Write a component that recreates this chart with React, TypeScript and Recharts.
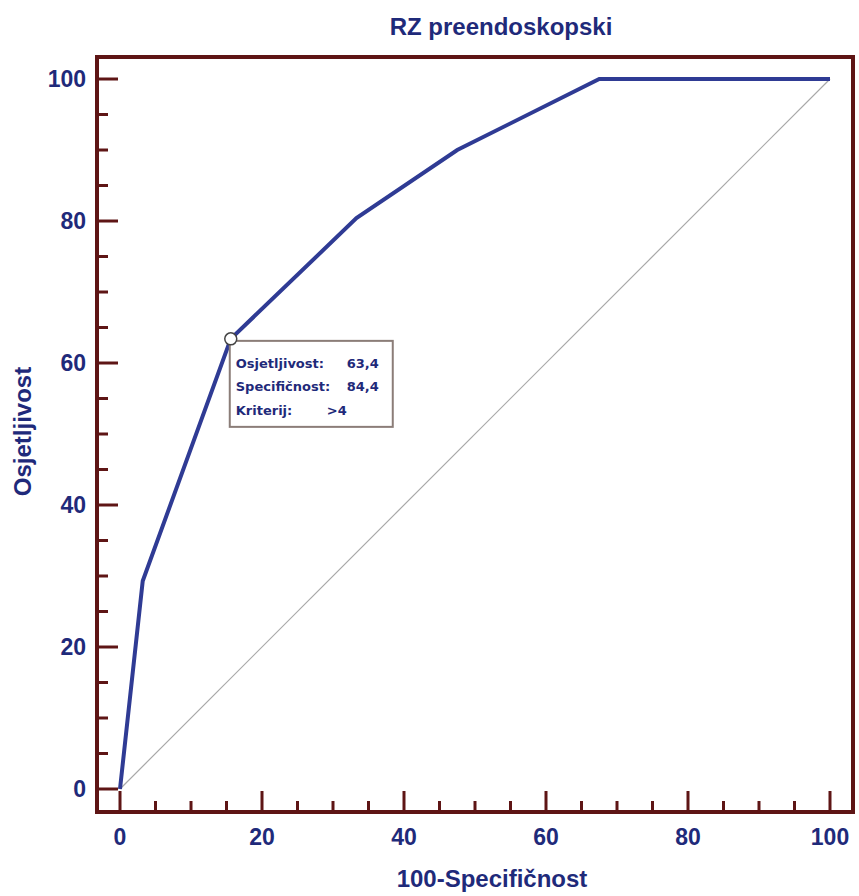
import { ComposedChart, Line, XAxis, YAxis, ReferenceArea, ReferenceDot } from 'recharts';

// ROC curve points (100-Specificity vs Sensitivity)
const fpr = [0, 3.2, 15.6, 33.3, 47.5, 67.5, 100];
const tpr = [0, 29.3, 63.4, 80.4, 90.0, 100, 100];

// reference diagonal
const chanceX = [0, 100];
const chanceY = [0, 100];

// optimal criterion point
const critX = 15.6;
const critY = 63.4;
const critRows = [
  { label: 'Osjetljivost:', value: '63,4' },
  { label: 'Specifičnost:', value: '84,4' },
  { label: 'Kriterij:', value: '>4' },
];

const axisTicks = [0, 5, 10, 15, 20, 25, 30, 35, 40, 45, 50, 55, 60, 65, 70, 75, 80, 85, 90, 95, 100];

const rocData = fpr.map((x, i) => ({ x, y: tpr[i] }));
const chanceData = chanceX.map((x, i) => ({ x, y: chanceY[i] }));

const TEXT = '#1f2a7a';
const FRAME = '#5e1515';
const CURVE = '#2f3b94';
const FONT = '"Liberation Sans", Arial, sans-serif';

const XTick = ({ x, y, payload }: any) => {
  const major = payload.value % 20 === 0;
  return (
    <g>
      <line x1={x} x2={x} y1={y} y2={y - (major ? 21 : 11)} stroke={FRAME} strokeWidth={3} />
      {major && (
        <text x={x} y={y + 33} textAnchor="middle" fill={TEXT} fontSize={23} fontWeight="bold" fontFamily={FONT}>
          {payload.value}
        </text>
      )}
    </g>
  );
};

const YTick = ({ x, y, payload }: any) => {
  const major = payload.value % 20 === 0;
  return (
    <g>
      <line x1={x} x2={x + (major ? 21 : 11)} y1={y} y2={y} stroke={FRAME} strokeWidth={3} />
      {major && (
        <text x={x - 11} y={y + 8} textAnchor="end" fill={TEXT} fontSize={23} fontWeight="bold" fontFamily={FONT}>
          {payload.value}
        </text>
      )}
    </g>
  );
};

const CritBox = ({ cx, cy }: any) => {
  const bx = cx - 1;
  const by = cy + 2;
  return (
    <g>
      <rect x={bx} y={by} width={163} height={86} fill="#fff" stroke="#8b7d78" strokeWidth={2} />
      {critRows.map((r, i) => (
        <g key={r.label}>
          <text x={bx + 6} y={by + 27 + i * 23.5} fill={TEXT} fontSize={13} fontWeight="bold" fontFamily='"DejaVu Sans", sans-serif'>
            {r.label}
          </text>
          <text
            x={i < 2 ? bx + 149 : bx + 117}
            y={by + 27 + i * 23.5}
            textAnchor="end"
            fill={TEXT}
            fontSize={13}
            fontWeight="bold"
            fontFamily='"DejaVu Sans", sans-serif'
          >
            {r.value}
          </text>
        </g>
      ))}
      <circle cx={cx} cy={cy} r={6} fill="#fff" stroke="#444" strokeWidth={1.5} />
    </g>
  );
};

export default function App() {
  return (
    <div style={{ position: 'absolute', left: 0, top: 0, width: 859, height: 896, background: '#fff' }}>
      <div
        style={{
          position: 'absolute',
          left: 301,
          top: 13,
          width: 400,
          textAlign: 'center',
          fontFamily: FONT,
          fontWeight: 'bold',
          fontSize: 24,
          color: TEXT,
          lineHeight: 'normal',
        }}
      >
        RZ preendoskopski
      </div>
      <ComposedChart width={859} height={896} margin={{ top: 57, right: 6, bottom: 0, left: 0 }}>
        <XAxis
          dataKey="x"
          type="number"
          domain={[-3.24, 103.24]}
          allowDataOverflow
          ticks={axisTicks}
          interval={0}
          tickSize={0}
          tickMargin={0}
          tickLine={false}
          axisLine={false}
          tick={<XTick />}
          height={84}
          label={{
            content: ({ viewBox }: any) => (
              <text
                x={viewBox.x + viewBox.width / 2 + 17}
                y={viewBox.y + 75}
                textAnchor="middle"
                fill={TEXT}
                fontSize={24}
                fontWeight="bold"
                fontFamily={FONT}
              >
                100-Specifičnost
              </text>
            ),
          }}
        />
        <YAxis
          dataKey="y"
          type="number"
          domain={[-3.24, 103.1]}
          allowDataOverflow
          ticks={axisTicks}
          interval={0}
          tickSize={0}
          tickMargin={0}
          tickLine={false}
          axisLine={false}
          tick={<YTick />}
          width={97}
          label={{
            content: ({ viewBox }: any) => {
              const cx = 22;
              const cy = viewBox.y + viewBox.height / 2 - 3;
              return (
                <text
                  x={cx}
                  y={cy}
                  transform={`rotate(-90 ${cx} ${cy})`}
                  textAnchor="middle"
                  dominantBaseline="central"
                  fill={TEXT}
                  fontSize={24}
                  fontWeight="bold"
                  fontFamily={FONT}
                >
                  Osjetljivost
                </text>
              );
            },
          }}
        />
        <ReferenceArea x1={-3.24} x2={103.24} y1={-3.24} y2={103.1} fill="none" stroke={FRAME} strokeWidth={4} />
        <Line data={chanceData} dataKey="y" stroke="#a8a8a8" strokeWidth={1.2} dot={false} isAnimationActive={false} />
        <Line data={rocData} dataKey="y" stroke={CURVE} strokeWidth={4} dot={false} isAnimationActive={false} />
        <ReferenceDot x={critX} y={critY} shape={<CritBox />} />
      </ComposedChart>
    </div>
  );
}
